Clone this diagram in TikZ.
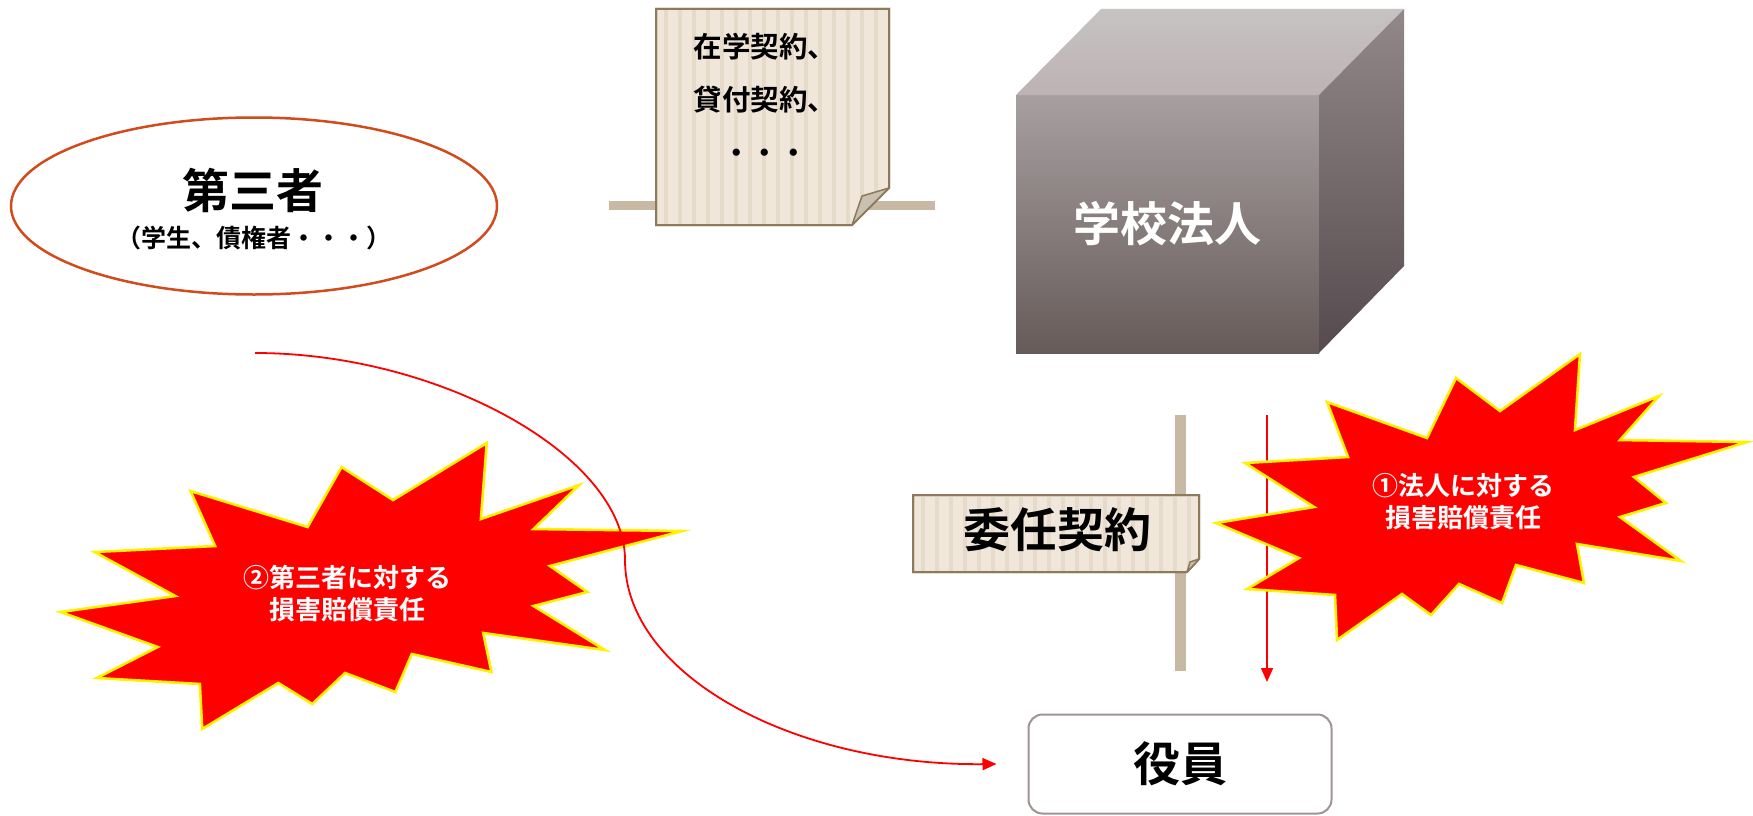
\documentclass[tikz,border=0pt]{standalone}
\usepackage{fontspec}
\setmainfont{Noto Sans CJK JP}[BoldFont={Noto Sans CJK JP Bold}]
\usepackage{xcolor}
\definecolor{paperFill}{HTML}{F0E6DA}
\definecolor{paperStripe}{HTML}{E6DACA}
\definecolor{paperEdge}{HTML}{8C7A5B}
\definecolor{paperFold}{HTML}{C9C0B2}
\definecolor{pinBar}{HTML}{C7B9A3}
\definecolor{thirdEdge}{HTML}{D14B1C}
\definecolor{officerEdge}{HTML}{A09392}
\definecolor{cubeFrontTop}{HTML}{A89FA1}
\definecolor{cubeFrontBot}{HTML}{665B59}
\definecolor{cubeTopBack}{HTML}{C6C3C3}
\definecolor{cubeTopFront}{HTML}{BDB2B4}
\definecolor{cubeSideTop}{HTML}{928889}
\definecolor{cubeSideBot}{HTML}{554A4D}
\usetikzlibrary{arrows.meta, shapes.geometric, positioning}

% jagged outline of a burst, centred on the origin
\newcommand{\burstpath}{(-155,-95) -- (-55,-59) -- (-26,-119) -- (18,-86) -- (98,-143)
  -- (93,-67) -- (177,-101) -- (138,-57) -- (265,-55) -- (152,-20) -- (184,6)
  -- (138,20) -- (199,64) -- (95,47) -- (102,86) -- (34,68) -- (20,106)
  -- (-23,87) -- (-51,118) -- (-80,97) -- (-145,143) -- (-147,98) -- (-235,92)
  -- (-183,61) -- (-266,26) -- (-168,10) -- (-237,-34) -- (-134,-40) -- cycle}

\begin{document}
\begin{tikzpicture}[
		x=1pt, y=-1pt,
		bigtext/.style={font=\fontsize{47}{56}\selectfont\bfseries},
		notetext/.style={font=\fontsize{28.5}{53}\selectfont\bfseries, align=center},
		paper/.style={fill=paperFill, draw=paperEdge, line width=2pt},
		fold/.style={fill=paperFold, draw=paperEdge, line width=1.5pt, line join=round},
		burst/.style={fill=red, draw=yellow, line width=2.6pt},
		bursttext/.style={font=\fontsize{26}{32}\selectfont\bfseries, text=white, align=center},
		redline/.style={draw=red, line width=1.8pt, -{Triangle[length=14pt, width=12pt]}}
		]
		\useasboundingbox (0,0) rectangle (1753,816);
		
		% third party
		\node[ellipse, draw=thirdEdge, line width=2.5pt, fill=white,
			minimum width=486pt, minimum height=177pt] (third) at (254,206) {};
		\node[bigtext] (thirdName) at (253,190) {第三者};
		\node[font=\fontsize{25}{28}\selectfont\bfseries] (thirdSub) at (254,238) {（学生、債権者・・・）};
		
		% contract note pinned on a bar
		\fill[pinBar] (609,201) rectangle (935,210);
		\draw[paper] (656,9) -- (889,9) -- (889,188) -- (852,225) -- (656,225) -- cycle;
		\begin{scope}
			\clip (657,10) -- (888,10) -- (888,188) -- (852,224) -- (657,224) -- cycle;
			\foreach \x in {664,678,...,886}
				\fill[paperStripe] (\x,10) rectangle ++(4,215);
		\end{scope}
		\draw[paper, fill=none] (656,9) -- (889,9) -- (889,188) -- (852,225) -- (656,225) -- cycle;
		\draw[fold] (889,188) -- (862,196) -- (852,225) -- cycle;
		\node[notetext] (contracts) at (765,98) {在学契約、\\貸付契約、\\・・・};
		
		% school corporation cube
		\node[shade, top color=cubeFrontTop, bottom color=cubeFrontBot,
			minimum width=303pt, minimum height=258pt, inner sep=0pt, outer sep=0pt,
			bigtext, text=white] (corp) at (1167.5,224) {学校法人};
		\shade[top color=cubeTopBack, bottom color=cubeTopFront]
			(corp.north west) -- ++(85,-86) -- ++(303,0) -- (corp.north east) -- cycle;
		\shade[top color=cubeSideTop, bottom color=cubeSideBot]
			(corp.north east) -- ++(85,-86) -- ++(0,257) -- (corp.south east) -- cycle;
		
		% mandate note pinned on a post
		\fill[pinBar] (1175,415) rectangle (1186,671);
		\draw[paper] (913,495) -- (1199,495) -- (1199,559) -- (1187,572) -- (913,572) -- cycle;
		\begin{scope}
			\clip (914,496) -- (1198,496) -- (1198,559) -- (1187,571) -- (914,571) -- cycle;
			\foreach \x in {921,935,...,1197}
				\fill[paperStripe] (\x,496) rectangle ++(4,76);
		\end{scope}
		\draw[paper, fill=none] (913,495) -- (1199,495) -- (1199,559) -- (1187,572) -- (913,572) -- cycle;
		\draw[fold] (1199,559) -- (1190,562) -- (1187,572) -- cycle;
		\node[bigtext] (mandate) at (1057,530) {委任契約};
		
		% officers
		\node[draw=officerEdge, line width=2pt, rounded corners=14pt, fill=white,
			minimum width=303pt, minimum height=99pt, bigtext] (officer) at (1180,764) {役員};
		
		% liability toward the corporation
		\coordinate (dutyTop) at (1267,415);
		\coordinate (dutyEnd) at (1267,682);
		\draw[redline, line width=1.5pt] (dutyTop) -- (dutyEnd);
		\filldraw[burst, shift={(1482,497)}] \burstpath;
		\node[bursttext] (dmgCorp) at (1463,502) {①法人に対する\\損害賠償責任};
		
		% liability toward third parties
		\filldraw[burst, shift={(372,586)}, xscale=1.171] \burstpath;
		\node[bursttext] (dmgThird) at (347,594) {②第三者に対する\\損害賠償責任};
		
		\coordinate (curveStart) at (255,353);
		\draw[redline] (curveStart) .. controls (440,353) and (625,456) .. (625,560)
			.. controls (625,674) and (792,766) .. ([xshift=-31pt]officer.west);
		
	\end{tikzpicture}
\end{document}
